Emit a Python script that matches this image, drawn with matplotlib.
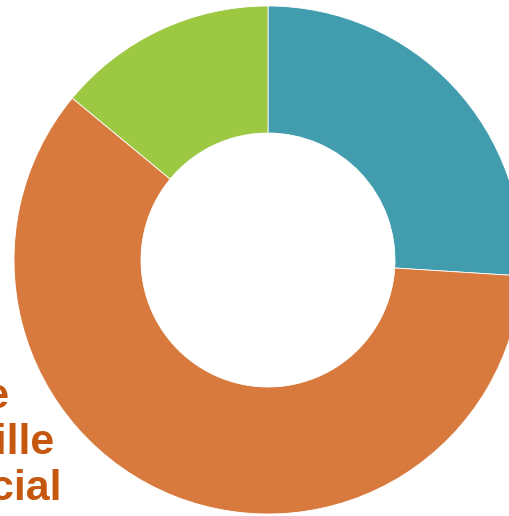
import matplotlib
matplotlib.use("Agg")
import matplotlib.pyplot as plt

# wedge values (percent), clockwise from 12 o'clock
labels = ["Autres", "Crédit de\nportefeuille\ncommercial", "Divers"]
values = [26, 60, 14]
colors = ["#419DAE", "#D87A3E", "#9CC842"]

W, H = 510, 516
fig = plt.figure(figsize=(W / 100, H / 100), dpi=100)

# centre of donut at pixel (268, 260), outer radius 254 px
cx, cy, R = 268, 260, 254
ax = fig.add_axes([0, 0, 1, 1])
ax.pie(
    values,
    colors=colors,
    startangle=90,
    counterclock=False,
    radius=1,
    wedgeprops=dict(width=0.5, edgecolor="white", linewidth=0.6),
)
ax.set_xlim(-cx / R, (W - cx) / R)
ax.set_ylim(-(H - cy) / R, cy / R)
ax.set_aspect("auto")
ax.axis("off")

# label of the big wedge, mostly outside the left edge
fig.text(
    (62 - 239) / W,
    1 - 500 / H,
    labels[1],
    ha="left",
    va="baseline",
    fontsize=31,
    fontweight="bold",
    family="Liberation Sans",
    color="#C5570F",
    linespacing=1.2,
)

fig.savefig("out.png", dpi=100)
